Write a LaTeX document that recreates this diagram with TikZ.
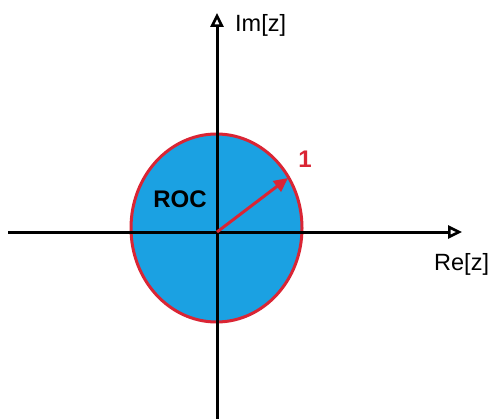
\documentclass[tikz,border=0pt]{standalone}
\usepackage{fontspec}
\setmainfont{Liberation Sans}
\usetikzlibrary{arrows.meta}
\definecolor{rocblue}{RGB}{27,161,226}
\definecolor{rocred}{RGB}{218,37,52}
\tikzset{
  axisline/.style={line width=3pt, black, -{Triangle[open, length=14pt, width=13pt, line width=2.6pt]}},
  unitarrow/.style={line width=3pt, rocred, -{Triangle[length=14pt, width=13pt]}},
  axislabel/.style={font=\fontsize{23.5}{26}\selectfont, anchor=west, inner sep=0pt},
  boldlabel/.style={font=\bfseries\fontsize{24}{26}\selectfont, inner sep=0pt},
}
\begin{document}
\begin{tikzpicture}[x=1pt,y=-1pt]
\useasboundingbox (0,0) rectangle (494,419);
\fill[white] (0,0) rectangle (494,419);
\coordinate (O) at (217,232);
\coordinate (xl) at (8,232);
\coordinate (xr) at (462,232);
\coordinate (yt) at (217,13);
\coordinate (yb) at (217,419);
\coordinate (tip) at (288,178);
\filldraw[fill=rocblue, draw=rocred, line width=3pt] (216.5,228) ellipse [x radius=85.5, y radius=94];
\draw[axisline] (xl) -- (xr);
\draw[axisline] (yb) -- (yt);
\draw[unitarrow] (O) -- (tip);
\node[axislabel] (im) at (235,25) {Im[z]};
\node[axislabel] (re) at (434,264) {Re[z]};
\node[boldlabel] (roc) at (180,199) {ROC};
\node[boldlabel, text=rocred] (one) at (305,159) {1};
\end{tikzpicture}
\end{document}
